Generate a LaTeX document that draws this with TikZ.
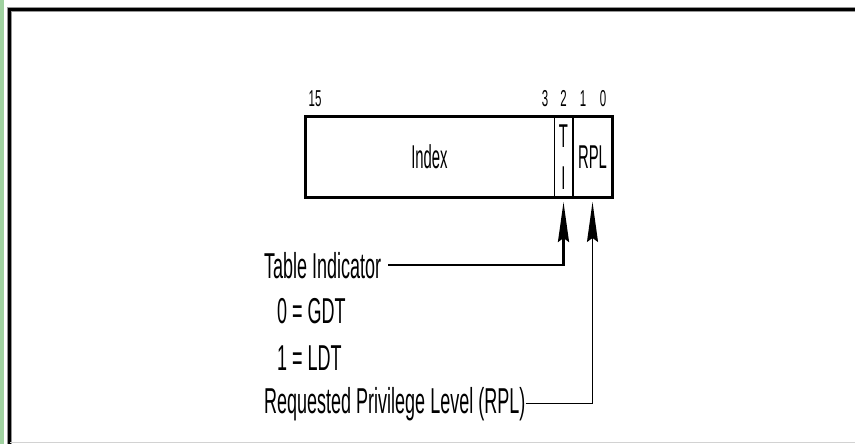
\documentclass[tikz,border=0pt]{standalone}
\usepackage{fontspec}
\setmainfont{Liberation Sans}[FakeStretch=0.5]
\newfontfamily\fieldfont{Liberation Sans}[FakeStretch=0.45]
\usetikzlibrary{arrows.meta, positioning}
\definecolor{cgreen}{RGB}{160,210,160}
\definecolor{cedge}{RGB}{150,150,150}

\begin{document}
\begin{tikzpicture}[
  x=1pt, y=-1pt,
  field/.style  = {rectangle, draw, line width=1pt, outer sep=0pt,
                   inner sep=0pt, minimum height=80pt, align=center,
                   font=\fieldfont\fontsize{33}{42}\selectfont},
  bitnum/.style = {anchor=base, inner sep=0pt, font=\fontsize{23}{24}\selectfont},
  lbl/.style    = {anchor=base west, inner sep=0pt, font=\fontsize{36}{38}\selectfont},
  arr/.style    = {-{Stealth[length=40pt, width=11pt, inset=4pt]},
                   line width=2.5pt, shorten >=5pt},
]
\useasboundingbox (0,0) rectangle (855,444);
% Page frame
\fill[cgreen] (0,0) rectangle (3.5,444);
\draw[cedge, line width=5pt] (9,444) -- (9,9.5) -- (855,9.5);
\draw[line width=3pt] (9,444) -- (9,9.5) -- (855,9.5);
\draw[gray!35, line width=1.5pt] (10,442.5) -- (855,442.5);
% Selector fields
\node[field, minimum width=249pt, anchor=north west] (index) at (305,117) {Index};
\node[field, minimum width=19pt, right=0pt of index]  (ti)    {T\\I};
\node[field, minimum width=39pt, right=0pt of ti, line width=1.5pt] (rpl) {RPL};
\draw[line width=3pt] (index.north west) rectangle (rpl.south east);
% Bit numbers
\node[bitnum] (b15) at (315,106.7) {15};
\node[bitnum] (b3)  at (545,106.7) {3};
\node[bitnum] (b2)  at (563.5,106.7) {2};
\node[bitnum] (b1)  at (583,106.7) {1};
\node[bitnum] (b0)  at (603,106.7) {0};
% Labels
\node[lbl] (tilbl)  at (264,278) {Table Indicator};
\node[lbl] (gdt)    at (277,323) {0 = GDT};
\node[lbl] (ldt)    at (277,370) {1 = LDT};
\node[lbl] (rpllbl) at (264,413) {Requested Privilege Level (RPL)};
% Arrows
\draw[arr] ([xshift=7pt]tilbl.east) -| (ti.south);
\draw[arr, line width=1.5pt] (rpllbl.east) -| (rpl.south);
\end{tikzpicture}
\end{document}
